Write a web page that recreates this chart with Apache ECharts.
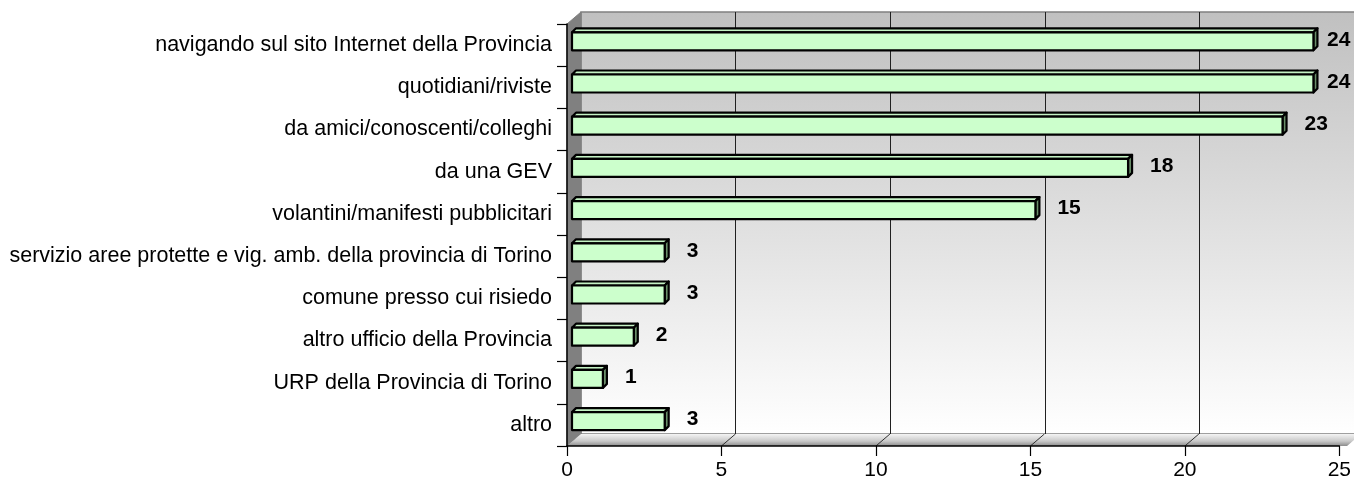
<!DOCTYPE html>
<html>
<head>
<meta charset="utf-8">
<script src="https://cdn.jsdelivr.net/npm/echarts@6/dist/echarts.min.js"></script>
<style>
  html, body { margin: 0; padding: 0; background: #fff; }
  #main { width: 1354px; height: 481px; }
</style>
</head>
<body>
<div id="main"></div>
<script>
// categorie, dall'alto verso il basso
var categories = [
  'navigando sul sito Internet della Provincia',
  'quotidiani/riviste',
  'da amici/conoscenti/colleghi',
  'da una GEV',
  'volantini/manifesti pubblicitari',
  'servizio aree protette e vig. amb. della provincia di Torino',
  'comune presso cui risiedo',
  'altro ufficio della Provincia',
  'URP della Provincia di Torino',
  'altro'
];
var values = [24, 24, 23, 18, 15, 3, 3, 2, 1, 3];
var xTicks = [0, 5, 10, 15, 20, 25];

// piano frontale e profondità "3D"
var L = 567, T = 24, W = 780, H = 422;
var DX = 14, DY = -12;
var FONT = 'Liberation Sans, Arial, sans-serif';

var chart = echarts.init(document.getElementById('main'));

var barData = values.map(function (v, i) { return [v, i]; });

var option = {
  animation: false,
  backgroundColor: '#ffffff',
  textStyle: { fontFamily: FONT },
  graphic: [
    // parete di fondo
    {
      type: 'rect', z: -10,
      shape: { x: L + DX, y: T + DY, width: W, height: H },
      style: {
        fill: new echarts.graphic.LinearGradient(0, 0, 0, 1, [
          { offset: 0, color: '#c0c0c0' },
          { offset: 1, color: '#ffffff' }
        ]),
        stroke: '#808080', lineWidth: 1.5
      }
    },
    // parete sinistra
    {
      type: 'polygon', z: -9,
      shape: { points: [[L, T], [L + DX, T + DY], [L + DX, T + H + DY], [L, T + H]] },
      style: { fill: '#808080', stroke: '#808080', lineWidth: 1 }
    },
    // pavimento
    {
      type: 'polygon', z: -8,
      shape: { points: [[L, T + H], [L + DX, T + H + DY], [L + W + DX, T + H + DY], [L + W, T + H]] },
      style: {
        fill: new echarts.graphic.LinearGradient(0, 0, 0, 1, [
          { offset: 0, color: '#f4f4f4' },
          { offset: 0.6, color: '#c8c8c8' },
          { offset: 1, color: '#8c8c8c' }
        ])
      }
    }
  ],
  grid: [
    { left: L, top: T, width: W, height: H, containLabel: false },
    { left: L + DX, top: T + DY, width: W, height: H, containLabel: false }
  ],
  xAxis: [
    {
      type: 'value', gridIndex: 0, min: 0, max: 25, interval: 5,
      axisLine: { show: true, lineStyle: { color: '#000', width: 1.5 } },
      axisTick: { show: true, length: 10, lineStyle: { color: '#000', width: 1.2 } },
      axisLabel: { color: '#000', fontSize: 21, margin: 14, fontFamily: FONT },
      splitLine: { show: false }
    },
    {
      type: 'value', gridIndex: 1, min: 0, max: 25, interval: 5,
      axisLine: { show: false }, axisTick: { show: false }, axisLabel: { show: false },
      splitLine: { show: true, showMinLine: false, showMaxLine: false, lineStyle: { color: '#202020', width: 1 } }
    }
  ],
  yAxis: [
    {
      type: 'category', gridIndex: 0, data: categories, inverse: true,
      axisLine: { show: true, lineStyle: { color: '#000', width: 1.5 } },
      axisTick: { show: true, length: 10, lineStyle: { color: '#000', width: 1.2 } },
      axisLabel: { color: '#000', fontSize: 21.5, margin: 15, fontFamily: FONT },
      splitLine: { show: false }
    },
    {
      type: 'value', gridIndex: 1, show: false, splitLine: { show: false }
    }
  ],
  series: [
    {
      type: 'custom',
      xAxisIndex: 0, yAxisIndex: 0,
      data: barData,
      encode: { x: 0, y: 1 },
      z: 5,
      renderItem: function (params, api) {
        var v = api.value(0);
        var c = api.value(1);
        var p0 = api.coord([0, c]);
        var p1 = api.coord([v, c]);
        var x0 = p0[0] + 5, x1 = p1[0] + 5;
        var yc = p0[1] - 3.8;
        var h = 18, d = 4;
        var yt = yc - h / 2, yb = yc + h / 2;
        var line = { stroke: '#000', lineWidth: 2.2, lineJoin: 'round' };
        // l'etichetta non supera il bordo del piano
        var lx = Math.min(x1 + d + 18, L + W - 20);
        return {
          type: 'group',
          children: [
            { type: 'polygon', shape: { points: [[x0, yt], [x0 + d, yt - d], [x1 + d, yt - d], [x1, yt]] },
              style: Object.assign({ fill: '#c4f2c4' }, line) },
            { type: 'polygon', shape: { points: [[x1, yt], [x1 + d, yt - d], [x1 + d, yb - d], [x1, yb]] },
              style: Object.assign({ fill: '#6a8f6a' }, line) },
            { type: 'rect', shape: { x: x0, y: yt, width: x1 - x0, height: h },
              style: Object.assign({ fill: '#ccffcc' }, line) },
            { type: 'text', x: lx, y: yc - 1.5,
              style: { text: String(v), fill: '#000', fontSize: 21, fontWeight: 'bold', fontFamily: FONT,
                       align: 'left', verticalAlign: 'middle' } }
          ]
        };
      }
    }
  ]
};

chart.setOption(option);

// linee diagonali sul pavimento in corrispondenza dei tick
var floorLines = xTicks.slice(1, -1).map(function (t) {
  var x = chart.convertToPixel({ xAxisIndex: 0 }, t);
  return {
    type: 'line', z: -7,
    shape: { x1: x, y1: T + H, x2: x + DX, y2: T + H + DY },
    style: { stroke: '#303030', lineWidth: 1 }
  };
});
chart.setOption({ graphic: option.graphic.concat(floorLines) });
</script>
</body>
</html>
